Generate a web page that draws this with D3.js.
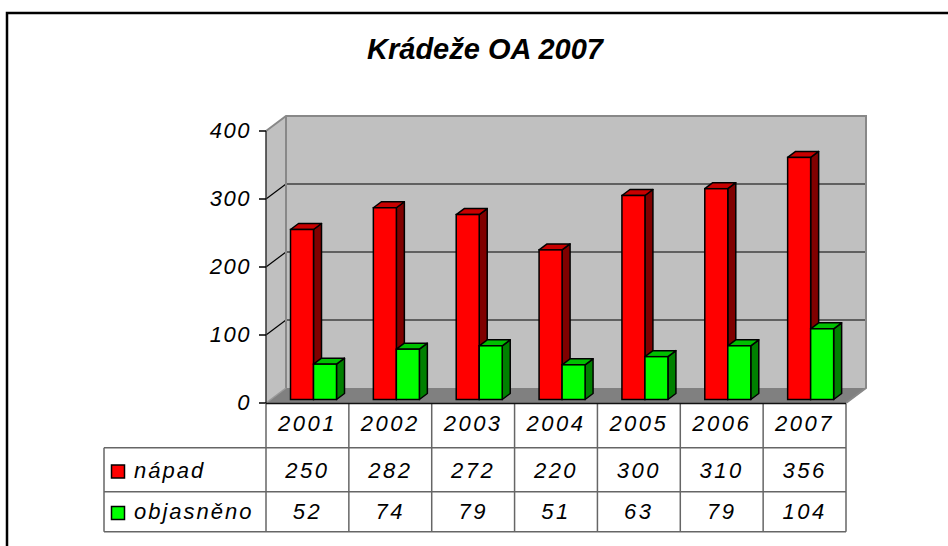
<!doctype html>
<html lang="cs">
<head>
<meta charset="utf-8">
<title>Krádeže OA 2007</title>
<script src="https://d3js.org/d3.v7.min.js"></script>
<style>
  body { margin: 0; background: #fff; }
  svg text { font-family: "Liberation Sans", Arial, sans-serif; font-style: italic; }
</style>
</head>
<body>
<div id="chart"></div>
<script>
// data
var years = ["2001", "2002", "2003", "2004", "2005", "2006", "2007"];
var napad = [250, 282, 272, 220, 300, 310, 356];
var objasneno = [52, 74, 79, 51, 63, 79, 104];
var yTicks = [0, 100, 200, 300, 400];
var seriesNames = ["nápad", "objasněno"];

var width = 948, height = 546;

var svg = d3.select("#chart")
  .append("svg")
    .attr("width", width)
    .attr("height", height);

// outer frame (runs off the right and bottom edge)
svg.append("rect")
  .attr("x", 7).attr("y", 13)
  .attr("width", 1000).attr("height", 600)
  .attr("fill", "none")
  .attr("stroke", "#000")
  .attr("stroke-width", 2.5);

// title
svg.append("text")
  .attr("x", 485).attr("y", 59)
  .attr("text-anchor", "middle")
  .style("font-size", "29px")
  .style("font-weight", "bold")
  .text("Krádeže OA 2007");

// scales - front plane of the 3d box
var x = d3.scaleBand().domain(years).range([266, 846]);
var y = d3.scaleLinear().domain([0, 400]).range([403, 131]);
var depth = { dx: 20, dy: -15 };

var x0 = x.range()[0], x1 = x.range()[1];

// side wall
svg.append("polygon")
  .attr("points", [[x0, y(0)], [x0, y(400)], [x0 + depth.dx, y(400) + depth.dy], [x0 + depth.dx, y(0) + depth.dy]].join(" "))
  .attr("fill", "#c0c0c0");

// back wall
svg.append("rect")
  .attr("x", x0 + depth.dx)
  .attr("y", y(400) + depth.dy)
  .attr("width", x1 - x0)
  .attr("height", y(0) - y(400))
  .attr("fill", "#c0c0c0");

// floor
svg.append("polygon")
  .attr("points", [[x0, y(0)], [x1, y(0)], [x1 + depth.dx, y(0) + depth.dy], [x0 + depth.dx, y(0) + depth.dy]].join(" "))
  .attr("fill", "#808080");

// gridlines on back + side wall
var grid = svg.append("g");
yTicks.filter(function (d) { return d > 0 && d < 400; }).forEach(function (d) {
  grid.append("line")
    .attr("x1", x0 + depth.dx).attr("x2", x1 + depth.dx)
    .attr("y1", y(d) + depth.dy).attr("y2", y(d) + depth.dy)
    .attr("stroke", "#000").attr("stroke-width", 1.2);
  grid.append("line")
    .attr("x1", x0).attr("x2", x0 + depth.dx)
    .attr("y1", y(d)).attr("y2", y(d) + depth.dy)
    .attr("stroke", "#000").attr("stroke-width", 1.2);
});

// wall borders (gray)
svg.append("path")
  .attr("d", "M" + x0 + "," + y(400) +
             "L" + (x0 + depth.dx) + "," + (y(400) + depth.dy) +
             "L" + (x1 + depth.dx) + "," + (y(400) + depth.dy) +
             "L" + (x1 + depth.dx) + "," + (y(0) + depth.dy) +
             "L" + x1 + "," + y(0))
  .attr("fill", "none")
  .attr("stroke", "#888")
  .attr("stroke-width", 2);
svg.append("line")
  .attr("x1", x0 + depth.dx).attr("x2", x0 + depth.dx)
  .attr("y1", y(400) + depth.dy).attr("y2", y(0) + depth.dy)
  .attr("stroke", "#888").attr("stroke-width", 2);
svg.append("line")
  .attr("x1", x0).attr("x2", x0 + depth.dx)
  .attr("y1", y(0)).attr("y2", y(0) + depth.dy)
  .attr("stroke", "#999").attr("stroke-width", 1.5);

// bars
var barW = 23, barOff = 19.5;
var barShift = { dx: 5, dy: -3.5 };   // bars sit a bit inside the box
var bd = { dx: 8, dy: -6 };           // bar depth

var series = [
  { name: seriesNames[0], values: napad, front: "#ff0000", top: "#c80000", side: "#800000" },
  { name: seriesNames[1], values: objasneno, front: "#00ff00", top: "#00c000", side: "#008000" }
];

function drawBar(g, bx, top, bottom, s) {
  g.append("polygon")
    .attr("points", [[bx + barW, top], [bx + barW + bd.dx, top + bd.dy], [bx + barW + bd.dx, bottom + bd.dy], [bx + barW, bottom]].join(" "))
    .attr("fill", s.side).attr("stroke", "#000").attr("stroke-width", 1.5).attr("stroke-linejoin", "round");
  g.append("polygon")
    .attr("points", [[bx, top], [bx + bd.dx, top + bd.dy], [bx + barW + bd.dx, top + bd.dy], [bx + barW, top]].join(" "))
    .attr("fill", s.top).attr("stroke", "#000").attr("stroke-width", 1.5).attr("stroke-linejoin", "round");
  g.append("rect")
    .attr("x", bx).attr("y", top)
    .attr("width", barW).attr("height", bottom - top)
    .attr("fill", s.front).attr("stroke", "#000").attr("stroke-width", 1.5);
}

var bars = svg.append("g");
years.forEach(function (yr, i) {
  // left to right, so the green bar hides the side of the red one
  series.forEach(function (s, k) {
    var bx = x(yr) + barOff + barShift.dx + k * barW;
    drawBar(bars, bx, y(s.values[i]) + barShift.dy, y(0) + barShift.dy, s);
  });
});

// y axis
var yAxis = svg.append("g");
yAxis.append("line")
  .attr("x1", x0).attr("x2", x0)
  .attr("y1", y(400)).attr("y2", y(0))
  .attr("stroke", "#333").attr("stroke-width", 1.5);
yAxis.selectAll(".tick")
  .data(yTicks)
  .enter()
  .append("line")
    .attr("x1", x0 - 7).attr("x2", x0)
    .attr("y1", function (d) { return y(d); })
    .attr("y2", function (d) { return y(d); })
    .attr("stroke", "#000").attr("stroke-width", 1.5);
yAxis.selectAll(".lbl")
  .data(yTicks)
  .enter()
  .append("text")
    .attr("x", 251)
    .attr("y", function (d) { return y(d) + 6.5; })
    .attr("text-anchor", "end")
    .style("font-size", "22px")
    .style("letter-spacing", "1.5px")
    .text(function (d) { return d; });

// data table
var rows = [403.5, 447.7, 491.7, 531.7];
var legendX = 104;
var table = svg.append("g");
var gridColor = "#666";

[rows[1], rows[2], rows[3]].forEach(function (ry) {
  table.append("line")
    .attr("x1", legendX).attr("x2", x1)
    .attr("y1", ry).attr("y2", ry)
    .attr("stroke", gridColor).attr("stroke-width", 1.5);
});
table.append("line")
  .attr("x1", legendX).attr("x2", legendX)
  .attr("y1", rows[1]).attr("y2", rows[3])
  .attr("stroke", gridColor).attr("stroke-width", 1.5);
years.concat(["end"]).forEach(function (yr, i) {
  var lx = i < years.length ? x(yr) : x1;
  table.append("line")
    .attr("x1", lx).attr("x2", lx)
    .attr("y1", rows[0]).attr("y2", rows[3])
    .attr("stroke", gridColor).attr("stroke-width", 1.5);
});
// x axis line = table top
table.append("line")
  .attr("x1", x0).attr("x2", x1)
  .attr("y1", rows[0]).attr("y2", rows[0])
  .attr("stroke", "#111").attr("stroke-width", 1.5);

var cx = function (yr) { return x(yr) + x.bandwidth() / 2; };

table.selectAll(".yr")
  .data(years)
  .enter()
  .append("text")
    .attr("x", function (d) { return cx(d); })
    .attr("y", 431)
    .attr("text-anchor", "middle")
    .style("font-size", "22px")
    .style("letter-spacing", "2.5px")
    .text(function (d) { return d; });

var rowBase = [477.5, 519];
series.forEach(function (s, k) {
  table.selectAll(".v" + k)
    .data(s.values)
    .enter()
    .append("text")
      .attr("x", function (d, i) { return cx(years[i]); })
      .attr("y", rowBase[k])
      .attr("text-anchor", "middle")
      .style("font-size", "22px")
      .style("letter-spacing", "2.5px")
      .text(function (d) { return d; });

  table.append("rect")
    .attr("x", 111.5).attr("y", rowBase[k] - 12.5)
    .attr("width", 13).attr("height", 13)
    .attr("fill", s.front)
    .attr("stroke", "#000").attr("stroke-width", 1.5);
  table.append("text")
    .attr("x", 134)
    .attr("y", rowBase[k])
    .style("font-size", "22px")
    .style("letter-spacing", "2px")
    .text(s.name);
});
</script>
</body>
</html>
